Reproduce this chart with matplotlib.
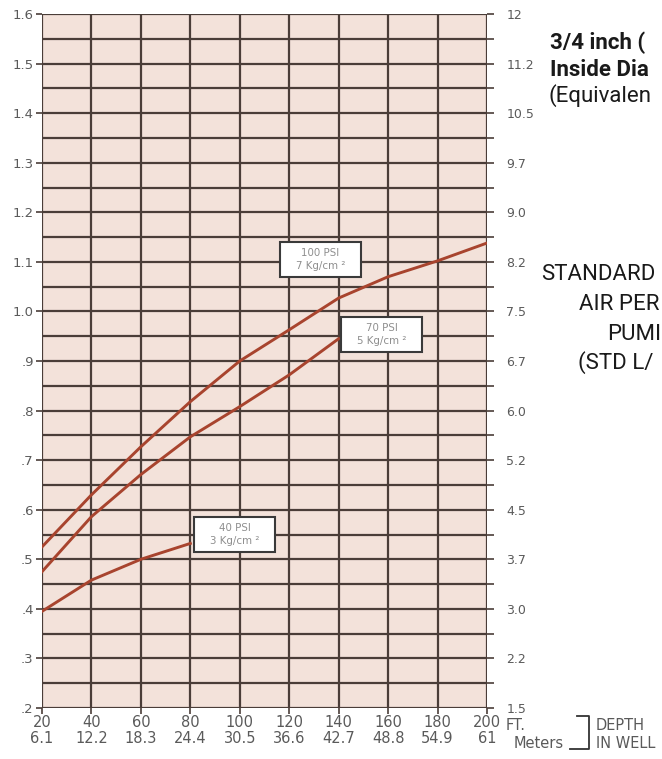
import matplotlib.pyplot as plt
import matplotlib.patches as patches
import numpy as np

W, H = 662, 759

# depth in feet and meters
depth_ft = [20, 40, 60, 80, 100, 120, 140, 160, 180, 200]
depth_m = ['6.1', '12.2', '18.3', '24.4', '30.5', '36.6', '42.7', '48.8', '54.9', '61']

# standard cubic feet of air per gallon pumped
psi100 = [0.525, 0.63, 0.727, 0.818, 0.90, 0.963, 1.027, 1.07, 1.102, 1.138]
psi70 = [0.475, 0.586, 0.671, 0.747, 0.808, 0.872, 0.945]
psi40 = [0.395, 0.458, 0.50, 0.532]

left_ticks = [0.2, 0.3, 0.4, 0.5, 0.6, 0.7, 0.8, 0.9, 1.0, 1.1, 1.2, 1.3, 1.4, 1.5, 1.6]
left_labels = ['.2', '.3', '.4', '.5', '.6', '.7', '.8', '.9', '1.0', '1.1', '1.2', '1.3', '1.4', '1.5', '1.6']
right_labels = ['1.5', '2.2', '3.0', '3.7', '4.5', '5.2', '6.0', '6.7', '7.5', '8.2', '9.0', '9.7', '10.5', '11.2', '12']

curve_labels = [('100 PSI\n7 Kg/cm ²', 132.7, 1.105),
                ('70 PSI\n5 Kg/cm ²', 157.5, 0.953),
                ('40 PSI\n3 Kg/cm ²', 97.9, 0.55)]

plt.rcParams['font.family'] = ['DejaVu Sans']

grid_col = '#4a3d38'
curve_col = '#a8442e'
tick_col = '#5a5a5a'


def px(x, y):
    return x / W, 1 - y / H


fig = plt.figure(figsize=(W / 100, H / 100), dpi=100)
ax = fig.add_axes([42 / W, 1 - 708 / H, 445 / W, 694 / H])
ax.set_facecolor('#f3e2da')
ax.set_xlim(20, 200)
ax.set_ylim(0.2, 1.6)

# grid
for x in depth_ft:
    ax.axvline(x, color=grid_col, lw=1.6, zorder=1)
for y in np.arange(0.2, 1.601, 0.05):
    ax.axhline(y, color=grid_col, lw=1.6, zorder=1)
for s in ax.spines.values():
    s.set_visible(False)

# curves
ax.plot(depth_ft, psi100, color=curve_col, lw=2.1, zorder=3)
ax.plot(depth_ft[:len(psi70)], psi70, color=curve_col, lw=2.1, zorder=3)
ax.plot(depth_ft[:len(psi40)], psi40, color=curve_col, lw=2.1, zorder=3)

# label boxes, 81 x 35 px
bw = 81 / 445 * 180
bh = 35 / 694 * 1.4
for txt, x, y in curve_labels:
    ax.add_patch(patches.Rectangle((x - bw / 2, y - bh / 2), bw, bh, fc='white',
                                   ec='#3a3a3a', lw=1.5, zorder=4))
    ax.text(x, y, txt, ha='center', va='center', fontsize=7.4, color='#8e8e8e',
            linespacing=1.35, zorder=5)

# left axis
ax.set_yticks(left_ticks)
ax.set_yticklabels(left_labels)
ax.set_xticks(depth_ft)
ax.set_xticklabels(['%d\n%s' % (f, m) for f, m in zip(depth_ft, depth_m)])
ax.tick_params(axis='y', colors=grid_col, labelcolor=tick_col, labelsize=9.5,
               length=4, width=1.2, pad=2)
ax.tick_params(axis='x', colors=grid_col, labelcolor=tick_col, labelsize=10.5,
               length=4, width=1.2, pad=1)
for lab in ax.get_xticklabels():
    lab.set_linespacing(1.05)

# right axis
ax2 = ax.twinx()
ax2.set_ylim(0.2, 1.6)
ax2.set_yticks(left_ticks)
ax2.set_yticklabels(right_labels)
ax2.set_yticks(np.arange(0.25, 1.6, 0.1), minor=True)
ax2.tick_params(axis='y', which='both', colors=grid_col, labelcolor=tick_col,
                labelsize=9, length=5, width=1.2, pad=9)
for s in ax2.spines.values():
    s.set_visible(False)

# axis unit labels
unit = dict(fontsize=10.5, color=tick_col, va='center', ha='left')
fig.text(*px(506, 725), 'FT.', **unit)
fig.text(*px(514, 743), 'Meters', **unit)
fig.text(*px(596, 725), 'DEPTH', **unit)
fig.text(*px(596, 743), 'IN WELL', **unit)
fig.add_artist(plt.Line2D([577 / W, 589 / W, 589 / W, 570 / W],
                          [1 - 716 / H, 1 - 716 / H, 1 - 749 / H, 1 - 749 / H],
                          color='#333333', lw=1.3))

# side notes (cropped in the original)
side = dict(family=['Roboto', 'DejaVu Sans'], color='#1a1a1a', va='center', ha='left',
            fontsize=16)
fig.text(*px(550, 43), '3/4 inch (', fontweight='bold', **side)
fig.text(*px(550, 70), 'Inside Dia', fontweight='bold', **side)
fig.text(*px(549, 96), '(Equivalen', **side)
fig.text(*px(541, 274), 'STANDARD', **side)
fig.text(*px(579, 304), 'AIR PER', **side)
fig.text(*px(607, 334), 'PUMI', **side)
fig.text(*px(578, 363), '(STD L/', **side)

fig.savefig('out.png', dpi=100)
